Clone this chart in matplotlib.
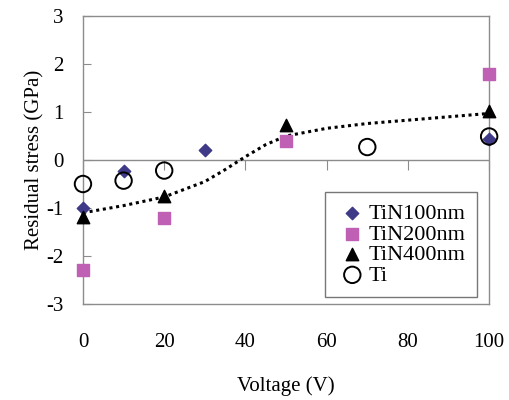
import matplotlib.pyplot as plt
import numpy as np

plt.rcParams['font.family'] = ['Liberation Serif', 'DejaVu Serif']
plt.rcParams['axes.unicode_minus'] = False

# data
v100 = [0, 10, 30, 100]
s100 = [-1.0, -0.22, 0.2, 0.44]
v200 = [0, 20, 50, 100]
s200 = [-2.3, -1.2, 0.39, 1.79]
v400 = [0, 20, 50, 100]
s400 = [-1.18, -0.76, 0.72, 1.02]
vti = [0, 10, 20, 70, 100]
sti = [-0.5, -0.43, -0.22, 0.27, 0.49]
# dotted trend line
vfit = [0, 10, 20, 30, 35, 40, 45, 50, 60, 70, 80, 90, 100]
sfit = [-1.1, -0.95, -0.77, -0.45, -0.2, 0.07, 0.32, 0.5, 0.66, 0.76, 0.83, 0.9, 0.97]

fig = plt.figure(figsize=(5.09, 4.0), dpi=100)
ax = fig.add_axes([0.163, 0.24, 0.798, 0.72])

gray = '#8c8c8c'
ax.plot(vfit, sfit, ls=(0, (1, 1.2)), color='black', lw=2.2, zorder=2, clip_on=False)
ax.scatter(v100, s100, marker='D', s=40, color='#3f3a88', label='TiN100nm', zorder=3, clip_on=False)
ax.scatter(v200, s200, marker='s', s=80, color='#c060b4', label='TiN200nm', zorder=3, clip_on=False)
ax.scatter(v400, s400, marker='^', s=80, color='black', label='TiN400nm', zorder=4, clip_on=False)
ax.scatter(vti, sti, marker='o', s=140, facecolors='none', edgecolors='black',
           linewidths=1.4, label='Ti', zorder=4, clip_on=False)

ax.set_xlim(0, 100)
ax.set_ylim(-3, 3)
ax.axhline(0, color=gray, lw=1, zorder=1)

for sp in ax.spines.values():
    sp.set_color(gray)
    sp.set_linewidth(1)

ax.set_xticks([0, 20, 40, 60, 80, 100])
ax.set_yticks([-3, -2, -1, 0, 1, 2, 3])
ax.tick_params(axis='x', length=0, pad=21, labelsize=15)
ax.tick_params(axis='y', direction='in', length=6, color=gray, pad=14, labelsize=15)

# tick marks standing on the zero line
sec = ax.secondary_xaxis(0.5)
sec.set_xticks([0, 20, 40, 60, 80, 100])
sec.tick_params(direction='in', length=7, color=gray, labelbottom=False, labeltop=False)
sec.spines['bottom'].set_visible(False)
sec.spines['top'].set_visible(False)
sec.set_xticklabels([])

ax.set_xlabel('Voltage (V)', fontsize=15, labelpad=17)
ax.set_ylabel('Residual stress (GPa)', fontsize=15, labelpad=1)

leg = ax.legend(loc='lower right', bbox_to_anchor=(0.97, 0.025), fontsize=16,
                frameon=True, fancybox=False, edgecolor='#555555',
                handletextpad=0.0, labelspacing=0.0, borderpad=0.5,
                handlelength=1.5, scatterpoints=1, borderaxespad=0)
leg.get_frame().set_linewidth(1)

fig.savefig('out.png', dpi=100)
